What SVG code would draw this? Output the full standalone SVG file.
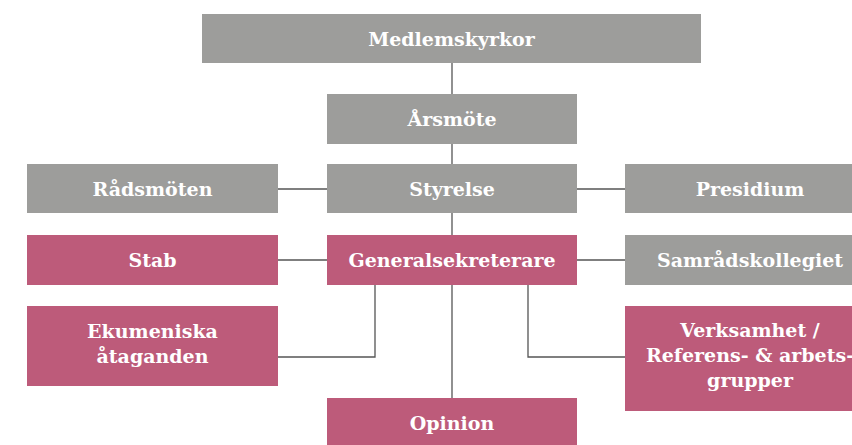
<svg xmlns="http://www.w3.org/2000/svg" width="852" height="445" viewBox="0 0 852 445">
<style>
.g{fill:#9d9d9b}
.p{fill:#bd5b7a}
.t{font-family:"DejaVu Serif","Liberation Serif",serif;font-weight:bold;font-size:19px;fill:#ffffff;text-anchor:middle}
.c{stroke:#555555;stroke-width:1.3;fill:none}
</style>
<rect width="852" height="445" fill="#ffffff"/>
<g id="connectors">
<line class="c" x1="452" y1="63" x2="452" y2="94"/>
<line class="c" x1="452" y1="144" x2="452" y2="164"/>
<line class="c" x1="452" y1="213" x2="452" y2="235"/>
<line class="c" x1="452" y1="285" x2="452" y2="398"/>
<line class="c" x1="278" y1="189" x2="327" y2="189"/>
<line class="c" x1="577" y1="189" x2="625" y2="189"/>
<line class="c" x1="278" y1="260" x2="327" y2="260"/>
<line class="c" x1="577" y1="260" x2="625" y2="260"/>
<polyline class="c" points="375,285 375,357 278,357"/>
<polyline class="c" points="528,285 528,357 625,357"/>
</g>
<g id="medlemskyrkor"><rect class="g" x="202" y="14" width="499" height="49"/><text class="t" x="451.5" y="46">Medlemskyrkor</text></g>
<g id="arsmote"><rect class="g" x="327" y="94" width="250" height="50"/><text class="t" x="452" y="126">Årsmöte</text></g>
<g id="radsmoten"><rect class="g" x="27" y="164" width="251" height="49"/><text class="t" x="152.5" y="196">Rådsmöten</text></g>
<g id="styrelse"><rect class="g" x="327" y="164" width="250" height="49"/><text class="t" x="452" y="196">Styrelse</text></g>
<g id="presidium"><rect class="g" x="625" y="164" width="250" height="49"/><text class="t" x="750" y="196">Presidium</text></g>
<g id="stab"><rect class="p" x="27" y="235" width="251" height="50"/><text class="t" x="152.5" y="267">Stab</text></g>
<g id="generalsekreterare"><rect class="p" x="327" y="235" width="250" height="50"/><text class="t" x="452" y="267">Generalsekreterare</text></g>
<g id="samradskollegiet"><rect class="g" x="625" y="235" width="250" height="50"/><text class="t" x="750" y="267">Samrådskollegiet</text></g>
<g id="ekumeniska"><rect class="p" x="27" y="306" width="251" height="80"/><text class="t" x="152.5" y="338">Ekumeniska</text><text class="t" x="152.5" y="363">åtaganden</text></g>
<g id="verksamhet"><rect class="p" x="625" y="306" width="250" height="105"/><text class="t" x="750" y="337">Verksamhet /</text><text class="t" x="750" y="362">Referens- &amp; arbets-</text><text class="t" x="750" y="387">grupper</text></g>
<g id="opinion"><rect class="p" x="327" y="398" width="250" height="50"/><text class="t" x="452" y="430">Opinion</text></g>
</svg>
